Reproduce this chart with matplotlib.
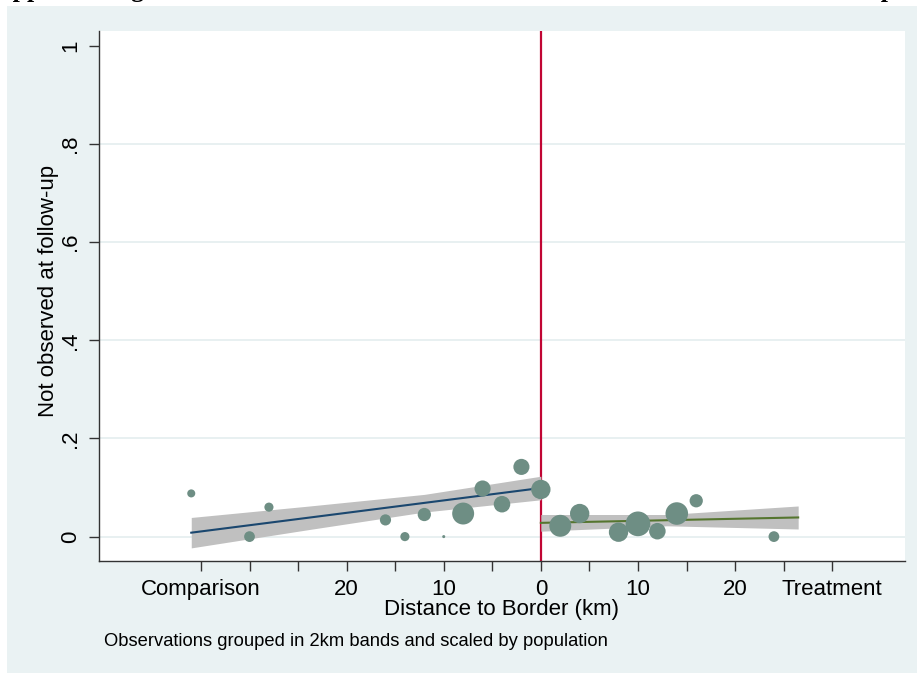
import numpy as np
import matplotlib.pyplot as plt
from matplotlib.patches import Rectangle

plt.rcParams['font.family'] = ['Liberation Sans', 'DejaVu Sans']

# binned observations (2km bands), comparison side (negative = distance into comparison)
dist_left = [-36, -30, -28, -16, -14, -12, -10, -8, -6, -4, -2, 0]
share_left = [0.088, 0.0, 0.060, 0.034, 0.0, 0.045, 0.0, 0.047, 0.098, 0.066, 0.142, 0.096]
pop_left = [14, 25, 18, 27, 18, 38, 2, 104, 56, 59, 56, 81]

# treatment side
dist_right = [2, 4, 8, 10, 12, 14, 16, 24]
share_right = [0.022, 0.047, 0.009, 0.026, 0.011, 0.047, 0.073, 0.0]
pop_right = [104, 81, 81, 132, 59, 110, 38, 25]

# linear fits with confidence bands
fit_left_x = [-36, 0]
fit_left_y = [0.008, 0.099]
ci_left_x = [-36, -24, -12, 0]
ci_left_lo = [-0.023, 0.014, 0.050, 0.075]
ci_left_hi = [0.039, 0.062, 0.086, 0.123]

fit_right_x = [0, 26.5]
fit_right_y = [0.028, 0.039]
ci_right_x = [0, 13, 26.5]
ci_right_lo = [0.011, 0.022, 0.0155]
ci_right_hi = [0.045, 0.045, 0.0624]

xtick_pos = [-35, -30, -25, -20, -15, -10, -5, 0, 5, 10, 15, 20, 25, 30]
xtick_lab = ['Comparison', '', '', '20', '', '10', '', '0', '', '10', '', '20', '', 'Treatment']
ytick_pos = [0, 0.2, 0.4, 0.6, 0.8, 1]
ytick_lab = ['0', '.2', '.4', '.6', '.8', '1']

W, H = 917, 673
fig = plt.figure(figsize=(W / 100, H / 100), dpi=100, facecolor='white')
fig.add_artist(Rectangle((7 / W, 0), 1, (H - 6) / H, transform=fig.transFigure,
                         facecolor='#EAF2F3', edgecolor='none', zorder=0))

# title line, mostly cut off at the top of the image
fig.text(-6 / W, 1 + 2.5 / H,
         'Appendix Figure 2: Attrition of households not tracked from baseline to follow-up',
         family='Liberation Serif', fontweight='bold', fontsize=18.5, va='baseline', ha='left')

ax = fig.add_axes([99 / W, 112 / H, 806 / W, 530 / H])
ax.set_facecolor('white')

for g in ytick_pos[:-1]:
    ax.axhline(g, color='#E4EDEF', lw=1.2, zorder=0)

ax.axvline(0, color='#C10534', lw=1.6, zorder=1)

ax.fill_between(ci_left_x, ci_left_lo, ci_left_hi, color='#C0C0C0', lw=0, zorder=2)
ax.fill_between(ci_right_x, ci_right_lo, ci_right_hi, color='#C0C0C0', lw=0, zorder=2)
ax.plot(fit_left_x, fit_left_y, color='#1A476F', lw=1.5, zorder=3)
ax.plot(fit_right_x, fit_right_y, color='#55752F', lw=1.5, zorder=3)

ax.scatter(dist_left, share_left, s=np.array(pop_left) * 2.4, color='#6E8E84', lw=0, zorder=4)
ax.scatter(dist_right, share_right, s=np.array(pop_right) * 2.4, color='#6E8E84', lw=0, zorder=4)

ax.set_xlim(-45.5, 37.5)
ax.set_ylim(-0.0497, 1.03)

ax.set_xticks(xtick_pos)
ax.set_xticklabels(xtick_lab, fontsize=16)
ax.set_yticks(ytick_pos)
ax.set_yticklabels(ytick_lab, fontsize=16, rotation=90, va='center')
ax.tick_params(axis='both', length=7, width=1, color='#333333', pad=6)

for s in ['top', 'right']:
    ax.spines[s].set_visible(False)
for s in ['left', 'bottom']:
    ax.spines[s].set_color('#333333')
    ax.spines[s].set_linewidth(1)

ax.set_xlabel('Distance to Border (km)', fontsize=16, va='top')
ax.xaxis.set_label_coords(0.5, -(599 - 561) / 530)
ax.set_ylabel('Not observed at follow-up', fontsize=16, va='center')
ax.yaxis.set_label_coords((49 - 99) / 806, (561 - 290.5) / 530)

fig.text(104 / W, 1 - 646 / H, 'Observations grouped in 2km bands and scaled by population',
         fontsize=13.2, va='baseline', ha='left')

fig.savefig('out.png', dpi=100)
